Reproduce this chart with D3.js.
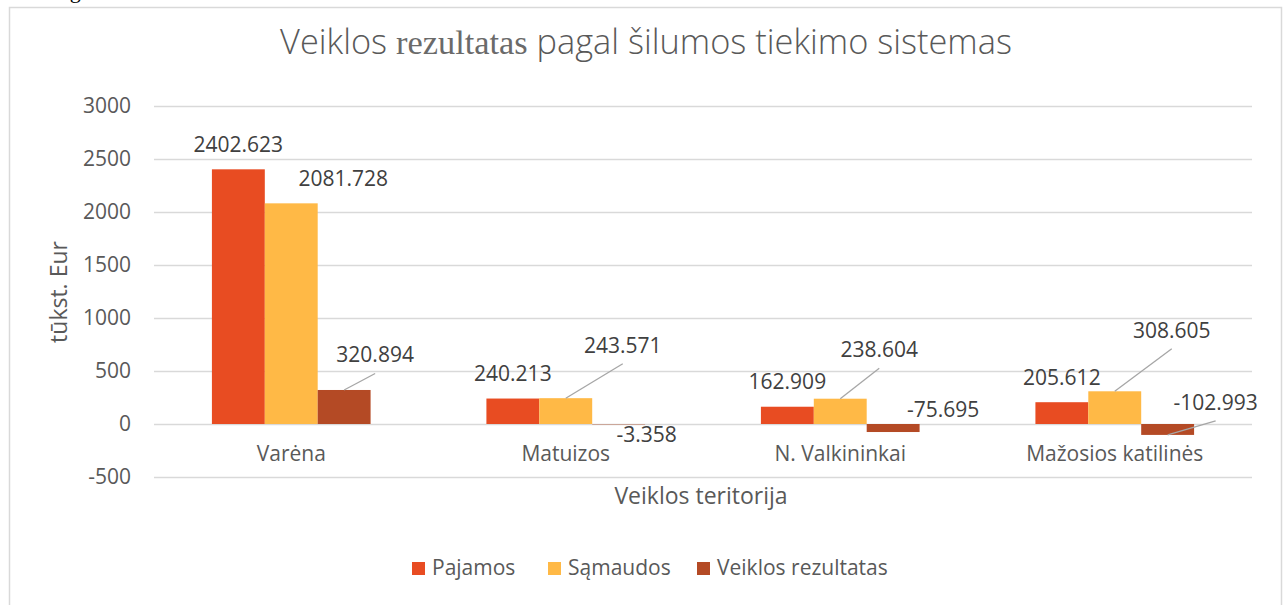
<!DOCTYPE html>
<html>
<head>
<meta charset="utf-8">
<script src="https://cdn.jsdelivr.net/npm/d3@7"></script>
<style>
  body { margin: 0; background: #fff; }
  svg { display: block; font-family: "Open Sans", "Noto Sans", sans-serif; }
</style>
</head>
<body>
<div id="chart"></div>
<script>
var categories = ["Varėna", "Matuizos", "N. Valkininkai", "Mažosios katilinės"];
var seriesNames = ["Pajamos", "Sąmaudos", "Veiklos rezultatas"];
var pajamos = [2402.623, 240.213, 162.909, 205.612];
var samaudos = [2081.728, 243.571, 238.604, 308.605];
var rezultatas = [320.894, -3.358, -75.695, -102.993];
var yTicks = [-500, 0, 500, 1000, 1500, 2000, 2500, 3000];

// manual label moves (px) as in the original chart: [dx, dy, leader line?]
var labelMoves = [
  [[0, 0, false], [0, 0, false], [0, 0, false], [0, 0, false]],
  [[52, 0, false], [57, -28, true], [39, -24, true], [57, -36, true]],
  [[31, -10, true], [28, 0, false], [50, -33, false], [48, -43, true]]
];

var width = 1284, height = 605;
var colors = ["#E84C22", "#FFB946", "#B44A25"];
var textColor = "#595959", labelColor = "#404040", gridColor = "#d9d9d9";
var fontSize = 21, titleFontSize = 23;

var rows = [pajamos, samaudos, rezultatas];

var svg = d3.select("#chart").append("svg")
  .attr("width", width)
  .attr("height", height);

// cut-off caption from the page above the chart
svg.append("text")
  .attr("x", 38).attr("y", -2)
  .attr("font-family", "Liberation Serif, serif")
  .attr("font-size", 22)
  .attr("fill", "#000")
  .text("Diagrama");

// chart border
svg.append("rect")
  .attr("x", 9.5).attr("y", 7.5)
  .attr("width", 1272).attr("height", 620)
  .attr("fill", "none")
  .attr("stroke", gridColor)
  .attr("stroke-width", 1.5);

var plot = { left: 154, right: 1252, top: 106, bottom: 477 };

var y = d3.scaleLinear()
  .domain([-500, 3000])
  .range([plot.bottom, plot.top]);

var x0 = d3.scaleBand()
  .domain(categories)
  .range([plot.left, plot.right]);

var barWidth = x0.bandwidth() / (3 + 2.19);
var x1 = d3.scaleBand()
  .domain(seriesNames)
  .range([0, 3 * barWidth]);
var groupOffset = (x0.bandwidth() - 3 * barWidth) / 2;

// gridlines + y tick labels
var yAxis = svg.append("g")
  .attr("transform", "translate(" + plot.left + ",0)")
  .call(d3.axisLeft(y)
    .tickValues(yTicks)
    .tickFormat(function(d) { return String(d); })
    .tickSize(-(plot.right - plot.left))
    .tickPadding(23));
yAxis.select(".domain").remove();
yAxis.selectAll(".tick line")
  .attr("stroke", gridColor)
  .attr("stroke-width", 1.5);
yAxis.selectAll(".tick text")
  .attr("fill", textColor)
  .attr("font-size", fontSize)
  .attr("font-family", "Open Sans, sans-serif");

// category labels next to zero line
var xAxis = svg.append("g")
  .attr("transform", "translate(0," + y(0) + ")")
  .call(d3.axisBottom(x0).tickSize(0).tickPadding(22));
xAxis.select(".domain").remove();
xAxis.selectAll(".tick text")
  .attr("fill", textColor)
  .attr("font-size", fontSize)
  .attr("font-family", "Open Sans, sans-serif");

// bars
var bars = [];
rows.forEach(function(values, si) {
  values.forEach(function(v, ci) {
    bars.push({ series: si, cat: ci, value: v });
  });
});

function barX(d) { return x0(categories[d.cat]) + groupOffset + x1(seriesNames[d.series]); }

svg.append("g").selectAll("rect")
  .data(bars)
  .enter()
    .append("rect")
    .attr("x", barX)
    .attr("y", function(d) { return y(Math.max(0, d.value)); })
    .attr("width", barWidth)
    .attr("height", function(d) { return Math.abs(y(d.value) - y(0)); })
    .attr("fill", function(d) { return colors[d.series]; });

// data labels
var labels = svg.append("g");
bars.forEach(function(d) {
  var move = labelMoves[d.series][d.cat];
  var cx = barX(d) + barWidth / 2;
  var baseY = d.value >= 0 ? y(d.value) - 17.5 : y(d.value) + 18;
  var lx = cx + move[0], ly = baseY + move[1];
  if (move[2]) {
    labels.append("line")
      .attr("x1", cx).attr("y1", y(d.value))
      .attr("x2", lx).attr("y2", ly + 11)
      .attr("stroke", "#a6a6a6")
      .attr("stroke-width", 1.3);
  }
  labels.append("text")
    .attr("x", lx).attr("y", ly)
    .attr("text-anchor", "middle")
    .attr("fill", labelColor)
    .attr("font-size", fontSize)
    .text(d.value.toFixed(3));
});

// title
var title = svg.append("text")
  .attr("x", 646).attr("y", 54)
  .attr("text-anchor", "middle")
  .attr("fill", textColor)
  .attr("font-size", 30)
  .attr("font-weight", 300);
title.append("tspan").text("Veiklos ");
title.append("tspan")
  .attr("font-family", "Liberation Serif, serif")
  .attr("font-weight", 400)
  .attr("fill", "#6a6a6a")
  .text("rezultatas");
title.append("tspan").text(" pagal šilumos tiekimo sistemas");
var titleWidth = title.node().getComputedTextLength();
title.attr("font-size", 30 * 732 / titleWidth);

// axis titles
svg.append("text")
  .attr("transform", "translate(67,292) rotate(-90)")
  .attr("text-anchor", "middle")
  .attr("fill", textColor)
  .attr("font-size", titleFontSize)
  .text("tūkst. Eur");

svg.append("text")
  .attr("x", 701).attr("y", 504)
  .attr("text-anchor", "middle")
  .attr("fill", textColor)
  .attr("font-size", titleFontSize)
  .text("Veiklos teritorija");

// legend
var legendX = [412, 548, 697];
var legend = svg.append("g").selectAll("g")
  .data(seriesNames)
  .enter()
    .append("g")
    .attr("transform", function(d, i) { return "translate(" + legendX[i] + ",562)"; });
legend.append("rect")
  .attr("width", 13).attr("height", 13)
  .attr("fill", function(d, i) { return colors[i]; });
legend.append("text")
  .attr("x", 20).attr("y", 13)
  .attr("fill", textColor)
  .attr("font-size", fontSize)
  .text(function(d) { return d; });
</script>
</body>
</html>
